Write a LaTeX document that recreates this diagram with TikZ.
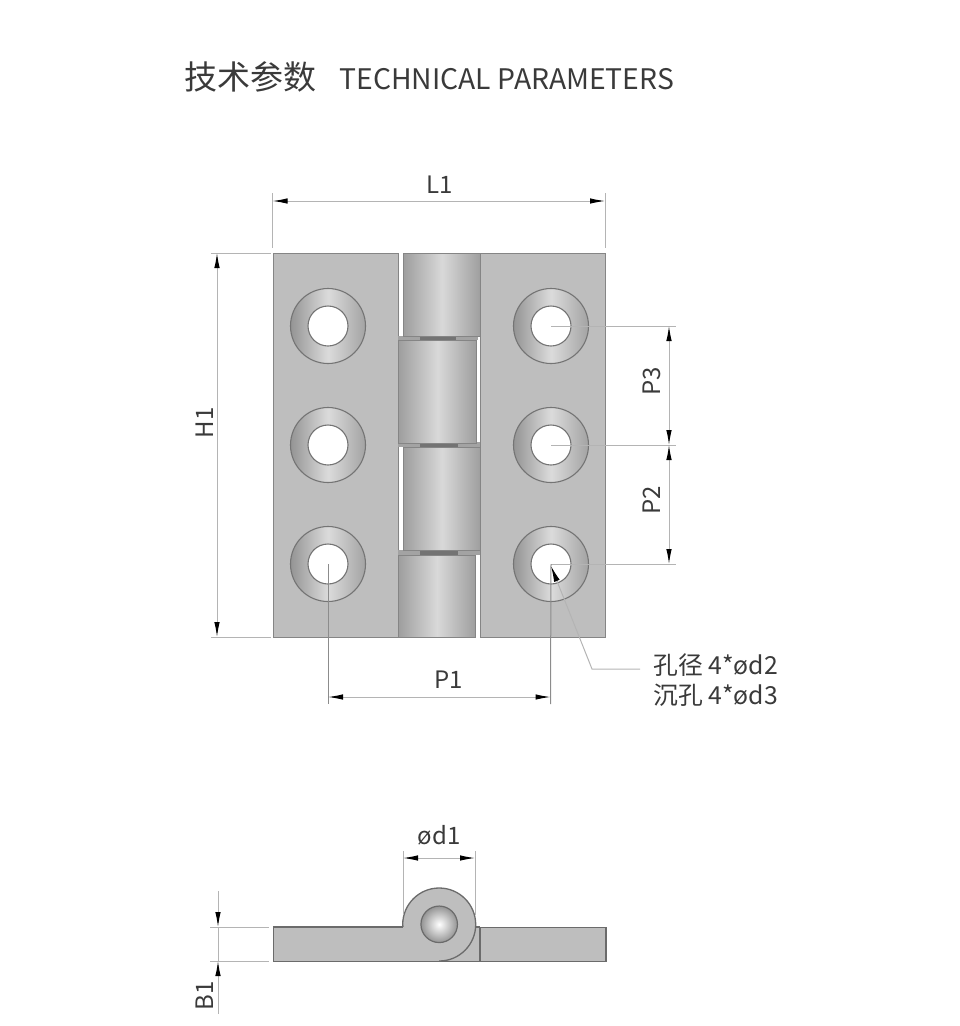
\documentclass[tikz,border=0pt]{standalone}
\usepackage{fontspec}
\setmainfont{Noto Sans CJK SC}
\usetikzlibrary{arrows.meta}
\definecolor{plate}{HTML}{BEBEBE}
\definecolor{edge}{HTML}{858585}
\definecolor{ringline}{HTML}{747474}
\definecolor{dimline}{HTML}{B4B4B4}
\definecolor{txt}{HTML}{3A3A3A}
\tikzset{
  platebox/.style={fill=plate,draw=edge,line width=1.1pt},
  knuckle/.style={left color=#1,right color=#1,middle color=black!15,draw=edge,line width=1.1pt},
  strip/.style={fill=black!36},
  ext/.style={draw=dimline,line width=1pt},
  dimen/.style={draw=dimline,line width=1pt,{Latex[length=15pt,width=5.5pt,black]}-{Latex[length=15pt,width=5.5pt,black]}},
  arrowdown/.style={draw=dimline,line width=1pt,-{Latex[length=15pt,width=5.5pt,black]}},
  lbl/.style={text=txt,font=\fontsize{24}{28}\selectfont,inner sep=0pt},
  note/.style={text=txt,font=\fontsize{24.8}{28}\selectfont,inner sep=0pt,anchor=west},
  outerring/.style={draw=ringline,line width=1.1pt,left color=black!42,right color=black!36,middle color=black!14},
  innerhole/.style={draw=ringline,line width=1.1pt,fill=white},
  sideline/.style={draw=black!58,line width=1.3pt},
}
\begin{document}
\begin{tikzpicture}[x=1pt,y=-1pt]
\useasboundingbox (0,0) rectangle (960,1026);
% titles
\node[text=txt,font=\fontsize{33}{36}\selectfont,inner sep=0pt,anchor=west] (titlecn) at (184.5,77) {技术参数};
\node[text=txt,font=\fontsize{28.3}{32}\selectfont,inner sep=0pt,anchor=west] (titleen) at (339.5,79.5) {TECHNICAL PARAMETERS};
% plates
\node[platebox,minimum width=125pt,minimum height=384pt,anchor=north west,inner sep=0pt] (lplate) at (272.5,253) {};
\node[platebox,minimum width=125pt,minimum height=384pt,anchor=north west,inner sep=0pt] (rplate) at (480,253) {};
% knuckles
\fill[strip] (398,336) rectangle (478,340);
\fill[strip] (398,442) rectangle (480,447);
\fill[strip] (398,550) rectangle (480,555);
\fill[black!55] (420,336.5) rectangle (456,340);
\fill[black!55] (420,442.5) rectangle (458,447);
\fill[black!55] (420,551) rectangle (458,555);
\node[knuckle=black!38,minimum width=77pt,minimum height=83pt,anchor=north west,inner sep=0pt] (k1) at (403,253) {};
\node[knuckle=black!38,minimum width=78pt,minimum height=103pt,anchor=north west,inner sep=0pt] (k2) at (398,340) {};
\node[knuckle=black!38,minimum width=77pt,minimum height=103pt,anchor=north west,inner sep=0pt] (k3) at (403,447) {};
\node[knuckle=black!38,minimum width=77pt,minimum height=82pt,anchor=north west,inner sep=0pt] (k4) at (398,555) {};
% holes
\foreach \nm/\cx/\cy in {a/328/326,b/328/445,c/328/564,d/551/326,e/551/445,f/551/564}{
  \node[outerring,circle,minimum size=75pt,inner sep=0pt] (o\nm) at (\cx,\cy) {};
  \node[innerhole,circle,minimum size=40pt,inner sep=0pt] (h\nm) at (\cx,\cy) {};
}
% L1
\coordinate (l1a) at (272.5,201); \coordinate (l1b) at (605,201);
\draw[ext] (272.5,193) -- (272.5,248); \draw[ext] (605,193) -- (605,248);
\draw[dimen] (l1a) -- (l1b);
\node[lbl] (L1) at (439.5,185) {L1};
% H1
\coordinate (h1a) at (217,253); \coordinate (h1b) at (217,637);
\draw[ext] (211,253) -- (271,253); \draw[ext] (211,637) -- (271,637);
\draw[dimen] (h1a) -- (h1b);
\node[lbl,rotate=90] (H1) at (204.5,423) {H1};
% P3 P2
\coordinate (p3a) at (669,326); \coordinate (p3b) at (669,445); \coordinate (p2b) at (669,564);
\draw[ext] (hd.center) -- (676,326);
\draw[ext] (he.center) -- (676,445);
\draw[ext] (hf.center) -- (676,564);
\draw[dimen] (p3a) -- (p3b);
\draw[dimen] (p3b) -- (p2b);
\node[lbl,rotate=90] (P3) at (652,381) {P3};
\node[lbl,rotate=90] (P2) at (652,500.5) {P2};
% P1
\coordinate (p1a) at (328,697); \coordinate (p1b) at (550.5,697);
\draw[ext,draw=black!45] (hc.center) -- (328,704);
\draw[ext,draw=black!45] (hf.center) -- (550.5,704);
\draw[dimen] (p1a) -- (p1b);
\node[lbl] (P1) at (449,680) {P1};
% leader
\coordinate (lead1) at (592,669); \coordinate (lead2) at (640,669); \coordinate (leadtip) at (551,566);
\draw[ext,{Latex[length=16pt,width=6pt,black]}-] (leadtip) -- (lead1) -- (lead2);
\node[note] (n1) at (653,665) {孔径 4*ød2};
\node[note] (n2) at (653,695) {沉孔 4*ød3};
% side view
\node[platebox,draw=black!58,line width=1.3pt,minimum width=332.5pt,minimum height=34pt,anchor=north west,inner sep=0pt] (side) at (272.8,927) {};
\fill[plate] (439.2,924.5) circle[radius=36.5];
\fill[plate] (404,926) rectangle (475,929);
\draw[sideline] (403,927) -- (402.7,924.5) arc[start angle=180,end angle=-90,x radius=36.5,y radius=-36.5];
\draw[sideline] (272.8,927) -- (403,927);
\draw[sideline] (480,927) -- (480,961);
\draw[sideline] (475,927) -- (480,927);
\shade[inner color=white,outer color=black!42] (439.2,924.3) circle[radius=18.3];
\node[circle,draw=black!58,line width=1.2pt,minimum size=36.5pt,inner sep=0pt] (pin) at (439.2,924.3) {};
% d1
\coordinate (d1a) at (403,858); \coordinate (d1b) at (475,858);
\draw[ext] (403,851) -- (403,915); \draw[ext] (475,851) -- (475,915);
\draw[dimen] (d1a) -- (d1b);
\node[lbl] (d1) at (439,835) {ød1};
% B1
\coordinate (b1a) at (218,891); \coordinate (b1b) at (218,927); \coordinate (b1c) at (218,961); \coordinate (b1d) at (218,1014);
\draw[ext] (210,927) -- (269,927); \draw[ext] (210,961) -- (269,961);
\draw[arrowdown] (b1a) -- (b1b);
\draw[ext] (b1b) -- (b1c);
\draw[arrowdown] (b1d) -- (b1c);
\node[lbl,rotate=90] (B1) at (205,996) {B1};
\end{tikzpicture}
\end{document}
